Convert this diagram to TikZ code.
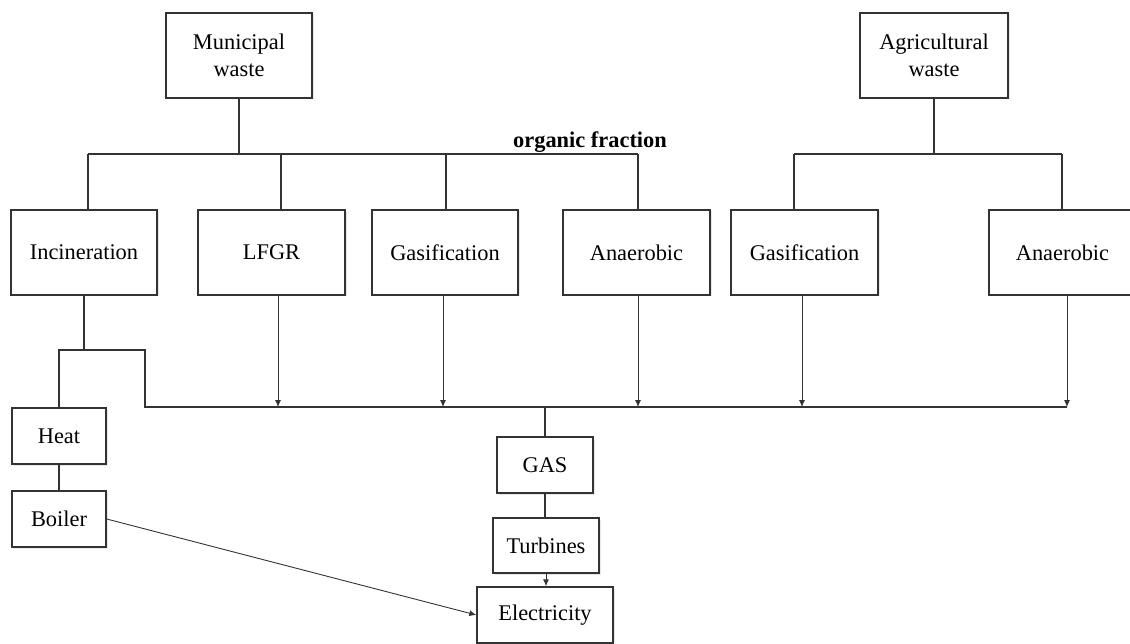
\documentclass[tikz,border=0pt]{standalone}
\usepackage{fontspec}
\setmainfont{Liberation Serif}
\usetikzlibrary{arrows.meta,shadows}

\begin{document}
\begin{tikzpicture}[x=1pt,y=-1pt,
		box/.style={draw=black!80,line width=1.4pt,fill=white,align=center,inner sep=0pt,
			font=\fontsize{22.4}{27}\selectfont,
			drop shadow={opacity=0.18,shadow xshift=1.5pt,shadow yshift=-1.5pt}},
		link/.style={draw=black!80,line width=1.4pt},
		feed/.style={draw=black!80,line width=0.9pt,-{Latex[length=7pt,width=6pt]}}]
		\useasboundingbox (0,0) rectangle (1130,644);
		
		\node[box,minimum width=146pt,minimum height=85pt] (muni) at (239,55.5) {Municipal\\waste};
		\node[box,minimum width=148pt,minimum height=85pt] (agri) at (934,55.5) {Agricultural\\waste};
		
		\node[box,minimum width=146pt,minimum height=85pt] (inc) at (84,252.5) {Incineration};
		\node[box,minimum width=147pt,minimum height=85pt] (lfgr) at (271.5,252.5) {LFGR};
		\node[box,minimum width=146pt,minimum height=85pt] (gasA) at (445,252.5) {Gasification};
		\node[box,minimum width=147pt,minimum height=85pt] (anaA) at (636.5,252.5) {Anaerobic};
		\node[box,minimum width=147pt,minimum height=85pt] (gasB) at (804.5,252.5) {Gasification};
		\node[box,minimum width=147pt,minimum height=85pt] (anaB) at (1062.5,252.5) {Anaerobic};
		
		\node[box,minimum width=94pt,minimum height=56pt] (heat) at (59,436) {Heat};
		\node[box,minimum width=94pt,minimum height=56pt] (boiler) at (59,519) {Boiler};
		\node[box,minimum width=96pt,minimum height=56pt] (gas) at (545,465) {GAS};
		\node[box,minimum width=106pt,minimum height=55pt] (turb) at (546,545.5) {Turbines};
		\node[box,minimum width=136pt,minimum height=56pt] (elec) at (545,615) {Electricity};
		
		\node[font=\fontsize{22.4}{27}\selectfont\bfseries,anchor=base] (org) at (590,148) {organic fraction};
		
		\coordinate (orgL) at (88,154);
		\coordinate (orgR) at (638,154);
		\coordinate (agrL) at (794,154);
		\coordinate (agrR) at (1062,154);
		\coordinate (jn) at (145,350);
		\coordinate (busL) at (145,407);
		\coordinate (busR) at (1067,407);
		
		\draw[link] (muni.south) -- (muni.south |- orgL);
		\draw[link] (orgL) -- (orgR);
		\foreach \n/\d in {inc/4,lfgr/9.5,gasA/1,anaA/1.5}{
			\draw[link] ([xshift=\d pt]\n.north) -- ([xshift=\d pt]\n.north |- orgL);
		}
		\draw[link] (agri.south) -- (agri.south |- agrL);
		\draw[link] (agrL) -- (agrR);
		\foreach \n/\d in {gasB/-10.5,anaB/-0.5}{
			\draw[link] ([xshift=\d pt]\n.north) -- ([xshift=\d pt]\n.north |- agrL);
		}
		
		\draw[link] (inc.south) -- (inc.south |- jn);
		\draw[link] (heat.north) |- (jn) -- (busL) -- (busR);
		\foreach \n/\d in {lfgr/6.5,gasA/-2,anaA/1.5,gasB/-2.5,anaB/4.5}{
			\draw[feed] ([xshift=\d pt]\n.south) -- ([xshift=\d pt]\n.south |- busL);
		}
		
		\draw[link] (gas.north) -- (gas.north |- busL);
		\draw[link] (heat) -- (boiler);
		\draw[link] (gas.south) -- (gas.south |- turb.north);
		\draw[feed] (turb.south) -- (turb.south |- elec.north);
		\draw[feed] (boiler.east) -- (elec.west);
	\end{tikzpicture}
\end{document}
